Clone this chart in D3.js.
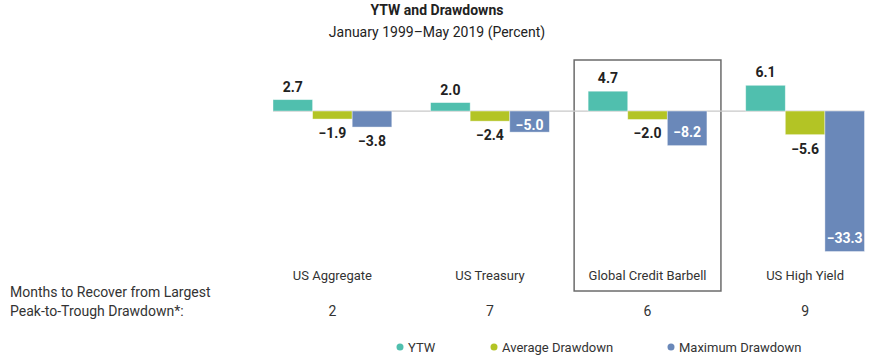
<!DOCTYPE html>
<html><head><meta charset="utf-8">
<script src="https://cdn.jsdelivr.net/npm/d3@7"></script>
<style>
body{margin:0;background:#fff;}
text{font-family:Roboto, "Open Sans", sans-serif;}
</style></head>
<body>
<svg id="c" width="880" height="358"></svg>
<script>
const categories = ["US Aggregate", "US Treasury", "Global Credit Barbell", "US High Yield"];
const seriesNames = ["YTW", "Average Drawdown", "Maximum Drawdown"];
const ytw = [2.7, 2.0, 4.7, 6.1];
const avgDrawdown = [-1.9, -2.4, -2.0, -5.6];
const maxDrawdown = [-3.8, -5.0, -8.2, -33.3];
const monthsToRecover = ["2", "7", "6", "9"];
const highlighted = "Global Credit Barbell";
const colors = ["#50bfae", "#b3c425", "#6a88b9"];

const seriesValues = [ytw, avgDrawdown, maxDrawdown];
const svg = d3.select("#c");

const x = d3.scaleBand().domain(categories).range([273, 864.5]).paddingInner(0.246).paddingOuter(0);
const xi = d3.scaleBand().domain(seriesNames).range([0, x.bandwidth()]).padding(0);
const y = d3.scaleLinear().domain([-35, 7]).range([258.7, 81.5]);
const y0 = y(0);

// Highlight box
svg.append("rect")
  .attr("x", x(highlighted) - 14).attr("y", 60)
  .attr("width", x.bandwidth() + 28).attr("height", 231)
  .attr("fill", "none").attr("stroke", "#6b6b6b").attr("stroke-width", 1.5);

// Title
svg.append("text").attr("x", 437).attr("y", 15).attr("text-anchor", "middle")
  .attr("font-size", 14).attr("font-weight", 700).attr("fill", "#222").text("YTW and Drawdowns");
svg.append("text").attr("x", 437).attr("y", 37).attr("text-anchor", "middle")
  .attr("font-size", 14).attr("fill", "#222").text("January 1999\u2013May 2019 (Percent)");

// zero line
svg.append("line").attr("x1", x.range()[0]).attr("x2", x.range()[1])
  .attr("y1", y0).attr("y2", y0).attr("stroke", "#c8c8c8").attr("stroke-width", 1.2);

const data = [];
categories.forEach((c, i) => seriesNames.forEach((s, j) => data.push({c, s, j, v: seriesValues[j][i]})));

const g = svg.append("g");
g.selectAll("rect.bar").data(data).join("rect").attr("class", "bar")
  .attr("x", d => x(d.c) + xi(d.s))
  .attr("width", xi.bandwidth())
  .attr("y", d => Math.min(y(d.v), y0))
  .attr("height", d => Math.abs(y(d.v) - y0))
  .attr("fill", d => colors[d.j])
  .attr("stroke", "#ffffff").attr("stroke-opacity", 0.5).attr("stroke-width", 0.8);

const inside = d => d.j === 2 && d.v <= -5;
const fmt = v => (v < 0 ? "\u2212" + Math.abs(v).toFixed(1) : v.toFixed(1));
g.selectAll("text.lbl").data(data).join("text").attr("class", "lbl")
  .attr("x", d => x(d.c) + xi(d.s) + xi.bandwidth() / 2)
  .attr("y", d => {
    if (d.v >= 0) return y(d.v) - 8;
    if (inside(d)) return Math.max(y(d.v) - 14, y0 + 14) + 5;
    return y(d.v) + 19;
  })
  .attr("text-anchor", "middle")
  .attr("font-size", 14).attr("font-weight", 700)
  .attr("fill", d => (inside(d) ? "#ffffff" : "#222"))
  .text(d => fmt(d.v));

// category labels
svg.selectAll("text.cat").data(categories).join("text").attr("class", "cat")
  .attr("x", d => x(d) + x.bandwidth() / 2).attr("y", 280)
  .attr("text-anchor", "middle").attr("font-size", 13).attr("fill", "#333").text(d => d);

// months
svg.selectAll("text.mon").data(categories).join("text").attr("class", "mon")
  .attr("x", d => x(d) + x.bandwidth() / 2).attr("y", 316)
  .attr("text-anchor", "middle").attr("font-size", 14).attr("fill", "#333")
  .text((d, i) => monthsToRecover[i]);
svg.append("text").attr("x", 10).attr("y", 297).attr("font-size", 14).attr("fill", "#333")
  .text("Months to Recover from Largest");
svg.append("text").attr("x", 10).attr("y", 316).attr("font-size", 14).attr("fill", "#333")
  .text("Peak-to-Trough Drawdown*:");

// legend
const legX = [400, 494, 671];
const leg = svg.selectAll("g.leg").data(seriesNames).join("g").attr("class", "leg")
  .attr("transform", (d, i) => `translate(${legX[i]},347)`);
leg.append("circle").attr("r", 3.5).attr("fill", (d, i) => colors[i]);
leg.append("text").attr("x", 8).attr("y", 4.5).attr("font-size", 13).attr("fill", "#333").text(d => d);
</script>
</body></html>
